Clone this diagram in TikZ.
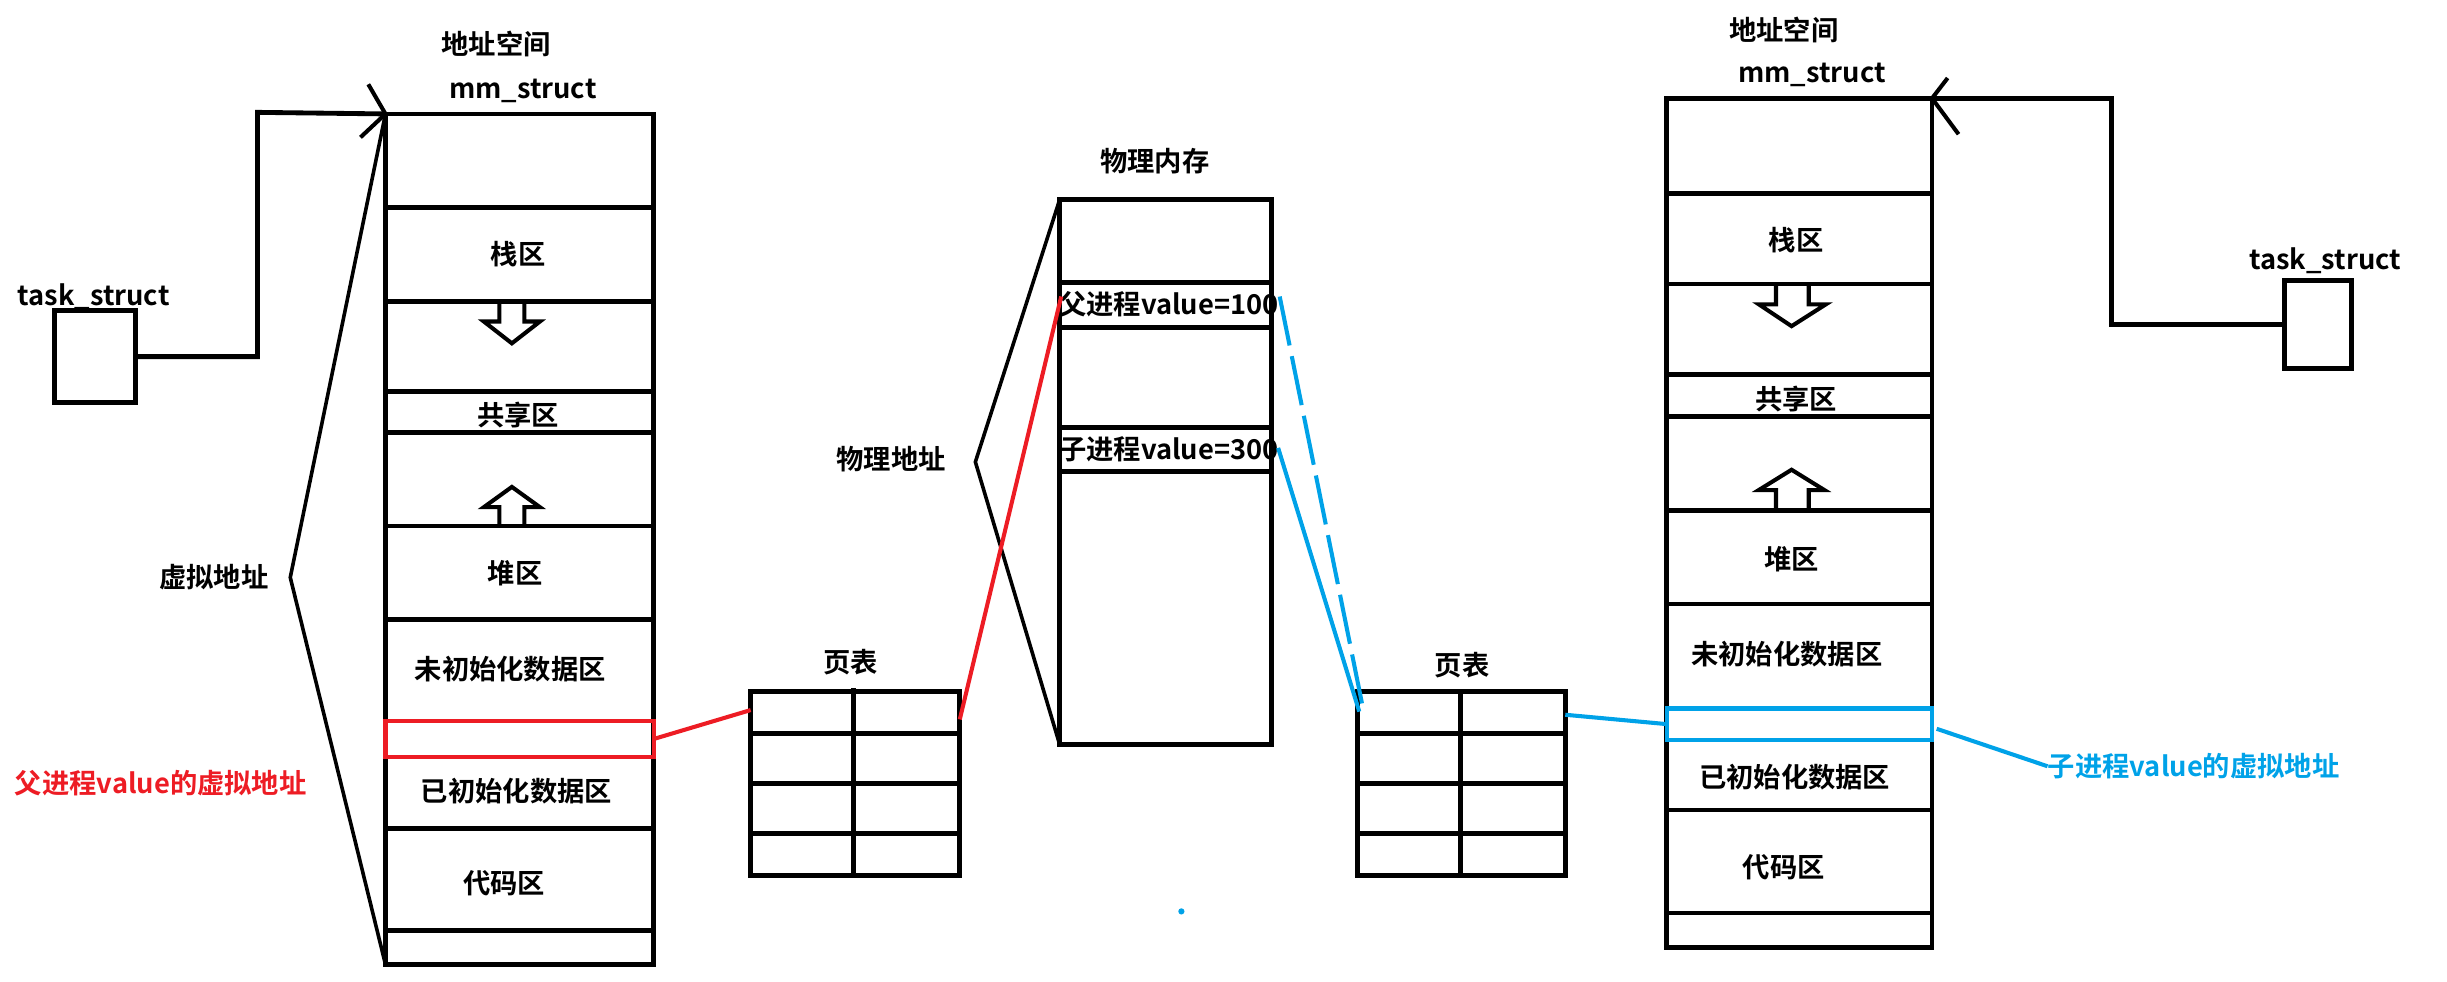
\documentclass[tikz,border=0pt]{standalone}
\usepackage{fontspec}
\usetikzlibrary{calc}
\newfontfamily\cjk{Noto Sans CJK SC}[BoldFont={Noto Sans CJK SC Bold}]
\definecolor{pred}{HTML}{ED1C24}
\definecolor{pblue}{HTML}{00A2E8}
\begin{document}
\begin{tikzpicture}[x=1pt,y=-1pt,
  lbl/.style={font=\cjk\bfseries\fontsize{17.5}{19}\selectfont, inner sep=0pt},
  wall/.style={line width=3.1pt},
  frame/.style={draw, line width=3.1pt, inner sep=0pt, outer sep=0pt, anchor=north west},
  slant/.style={line width=2.3pt},
  hollow/.style={line width=2.6pt, line join=miter},
  redln/.style={pred, line width=2.6pt},
  blueln/.style={pblue, line width=2.6pt}]
\useasboundingbox (0,0) rectangle (1568,629);

% ---------- left address space ----------
\node[frame, minimum width=172pt, minimum height=545pt] (lcol) at (247,73) {};
\foreach \y in {133,193,251,277,337,397,531,596} \draw[wall] (247,\y) -- (419,\y);
\node[frame, draw=pred, line width=2.8pt, minimum width=172pt, minimum height=23pt] (lvar) at (247,462) {};
\node[lbl] (laddr) at (318,28) {地址空间};
\node[lbl] (lmm) at (335,58) {mm\_struct};
\node[lbl] (lstack) at (332,163) {栈区};
\node[lbl] (lshare) at (332,266) {共享区};
\node[lbl] (lheap) at (330,367) {堆区};
\node[lbl] (lbss) at (327,429) {未初始化数据区};
\node[lbl] (ldata) at (331,507) {已初始化数据区};
\node[lbl] (lcode) at (323,566) {代码区};
\draw[hollow] (320,193) -- (320,206) -- (310,206) -- (328,220) -- (346,206) -- (336,206) -- (336,193);
\draw[hollow] (320,336) -- (320,325) -- (310,325) -- (328,312) -- (346,325) -- (336,325) -- (336,336);

% left task_struct
\node[lbl] (ltasklbl) at (60,190) {task\_struct};
\node[frame, minimum width=52pt, minimum height=59pt] (ltask) at (35,199) {};
\coordinate (lbend) at (165,72);
\draw[wall] (ltask.east) -| (lbend) -- (lcol.north west);
\draw[line width=2.6pt] ($(lcol.north west)+(-11,-19)$) -- (lcol.north west) -- ($(lcol.north west)+(-16,15)$);

% virtual address brace
\coordinate (lbrace) at (186,370);
\draw[slant] (lcol.north west) -- (lbrace) -- (lcol.south west);
\node[lbl] (lvirt) at (137,370) {虚拟地址};
\node[lbl, text=pred] (lvarlbl) at (103,502) {父进程value的虚拟地址};

% ---------- left page table ----------
\node[lbl] (lptlbl) at (545,424) {页表};
\node[frame, minimum width=134pt, minimum height=118pt] (lpt) at (481,443) {};
\foreach \y in {470,502,534} \draw[wall] (481,\y) -- (615,\y);
\draw[wall] (547,441) -- (547,561);

% ---------- physical memory ----------
\node[lbl] (pmemlbl) at (740,103) {物理内存};
\node[lbl] (pv1) at (749,195) {父进程value=100};
\node[lbl] (pv2) at (749,288) {子进程value=300};
\node[frame, minimum width=136pt, minimum height=349pt] (pmem) at (679,128) {};
\foreach \y in {181,210,274,302} \draw[wall] (679,\y) -- (815,\y);
\coordinate (pbrace) at (625,296);
\draw[slant] (pmem.north west) -- (pbrace) -- (pmem.south west);
\node[lbl] (pphys) at (571,294) {物理地址};

% red mapping
\coordinate (lptin) at (481,455);
\coordinate (lptout) at (615,461);
\coordinate (pparentL) at (680,190);
\draw[redln] (lvar.east) -- (lptin);
\draw[redln] (lptout) -- (pparentL);

% ---------- right page table ----------
\node[lbl] (rptlbl) at (937,426) {页表};
\node[frame, minimum width=133pt, minimum height=118pt] (rpt) at (870,443) {};
\foreach \y in {470,502,534} \draw[wall] (870,\y) -- (1003,\y);
\draw[wall] (936,443) -- (936,561);

% blue mapping
\coordinate (pparentR) at (820,190);
\coordinate (pchildR) at (819,287);
\coordinate (rptin1) at (873,452);
\coordinate (rptin2) at (871,456);
\draw[blueln, dash pattern=on 32pt off 7pt] (pparentR) -- (rptin1);
\draw[blueln] (pchildR) -- (rptin2);
\fill[pblue] (757,584) circle (2);

% ---------- right address space ----------
\node[frame, minimum width=170pt, minimum height=544pt] (rcol) at (1068,63) {};
\foreach \y in {124,182,240,267,327,387,519,585} \draw[wall] (1068,\y) -- (1238,\y);
\node[frame, draw=pblue, line width=2.8pt, minimum width=170pt, minimum height=20pt] (rvar) at (1068,454) {};
\node[lbl] (raddr) at (1143,19) {地址空间};
\node[lbl] (rmm) at (1161,48) {mm\_struct};
\node[lbl] (rstack) at (1151,154) {栈区};
\node[lbl] (rshare) at (1151,256) {共享区};
\node[lbl] (rheap) at (1148,358) {堆区};
\node[lbl] (rbss) at (1145,419) {未初始化数据区};
\node[lbl] (rdata) at (1150,498) {已初始化数据区};
\node[lbl] (rcode) at (1143,556) {代码区};
\draw[hollow] (1138,182) -- (1138,195) -- (1127,195) -- (1148,209) -- (1170,195) -- (1159,195) -- (1159,182);
\draw[hollow] (1138,327) -- (1138,314) -- (1127,314) -- (1148,301) -- (1169,314) -- (1159,314) -- (1159,327);

\coordinate (rptout) at (1003,458);
\draw[blueln] (rptout) -- (rvar.west);
\node[lbl, text=pblue, anchor=west] (rvarlbl) at (1312,491) {子进程value的虚拟地址};
\draw[blueln] ($(rvar.east)+(3,3)$) -- (rvarlbl.west);

% right task_struct
\node[lbl] (rtasklbl) at (1490,167) {task\_struct};
\node[frame, minimum width=43pt, minimum height=56pt] (rtask) at (1464,180) {};
\coordinate (rbend) at (1353,63);
\draw[wall] (rtask.west) -| (rbend) -- (rcol.north east);
\draw[line width=2.6pt] ($(rcol.north east)+(10,-13)$) -- (rcol.north east) -- ($(rcol.north east)+(17,23)$);
\end{tikzpicture}
\end{document}
